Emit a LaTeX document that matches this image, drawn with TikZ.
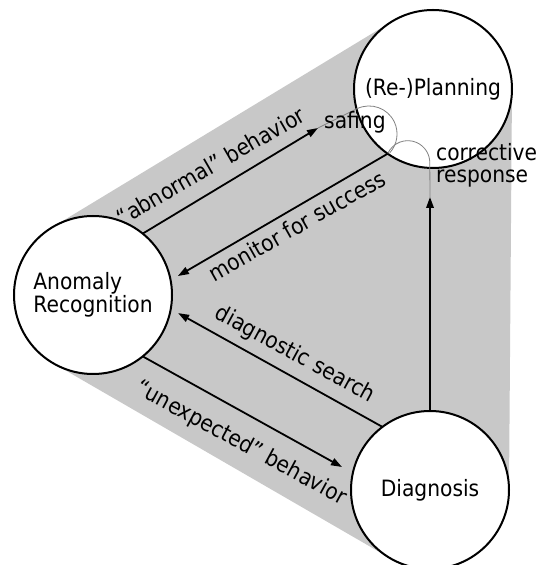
\documentclass[tikz,border=0pt]{standalone}
\usepackage{fontspec}
\setmainfont{DejaVu Sans}[FakeStretch=0.9]
\usetikzlibrary{arrows.meta,calc}
\definecolor{hullgray}{RGB}{200,200,200}
\definecolor{thingray}{RGB}{130,130,130}
\begin{document}
\begin{tikzpicture}[x=1pt,y=1pt,
  txt/.style={font=\fontsize{22.5}{23}\selectfont},
  circ/.style={circle, draw, line width=2pt, fill=white, minimum size=158pt,
    inner sep=0pt, outer sep=0pt, txt, align=center},
  arr/.style={line width=1.8pt, -{Triangle[length=11pt,width=7.5pt]}},
  thinl/.style={draw=thingray, line width=0.8pt},
  lab/.style={txt, anchor=base, inner sep=0pt}]
\useasboundingbox (0,0) rectangle (539,565);
% shaded hull
\fill[hullgray] (52.1,337.6) -- (392.1,543.6) -- (512,476) -- (509,75)
  -- (390.5,6.6) -- (53.5,201.6) -- cycle;
% circles
\node[circ, align=left] (A) at (93,270) {Anomaly\\Recognition};
\node[circ] (P) at (433,476) {(Re-)Planning};
\node[circ] (D) at (430,75) {Diagnosis};
% coordinates
\coordinate (tip1) at (318,437);
\coordinate (safS) at (357.2,456.4);
\coordinate (tip2) at ($(A.center)+(12.6:87)$);
\coordinate (tip3) at ($(A.center)+(-12:87)$);
\coordinate (tip4) at (342,98);
\coordinate (tip5) at (430,368);
% thin connectors
\draw[thinl] (tip1) -- (safS) arc[start angle=115, end angle=-42, radius=28];
\draw[thinl] (P.235) arc[start angle=156, end angle=0, radius=22] -- (tip5);
% arrows
\draw[arr] (A.51) -- (tip1);
\draw[arr] (P.235) -- (tip2);
\draw[arr] (D.127) -- (tip3);
\draw[arr] (A.-51) -- (tip4);
\draw[arr] (D.north) -- (tip5);
% labels
\node[lab, rotate=30] (l1) at (215,392) {“abnormal” behavior};
\node[lab, rotate=29.5] (l2) at (301,332) {monitor for success};
\node[lab, rotate=-28.5] (l3) at (292,205) {diagnostic search};
\node[lab, rotate=-28.5] (l4) at (238,116) {“unexpected” behavior};
\node[txt, anchor=base west, inner sep=0pt] (saf) at (324,436) {safing};
\node[txt, anchor=base west, inner sep=0pt] (cor1) at (436,404.3) {corrective};
\node[txt, anchor=base west, inner sep=0pt] (cor2) at (436,382.3) {response};
\end{tikzpicture}
\end{document}
